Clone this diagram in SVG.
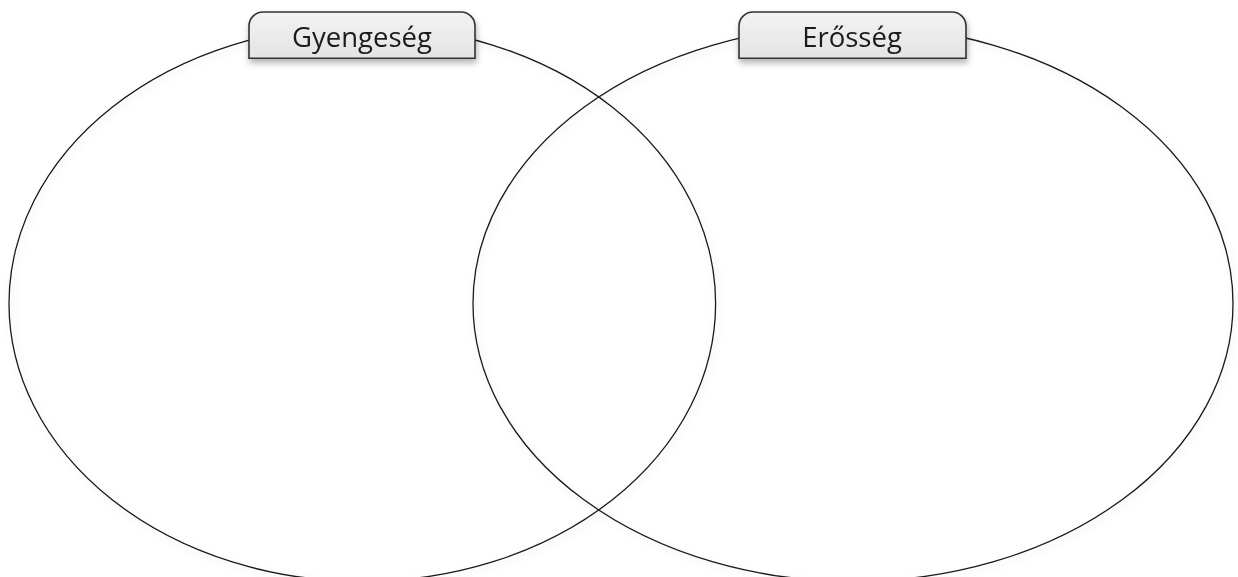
<svg xmlns="http://www.w3.org/2000/svg" width="1238" height="577" viewBox="0 0 1238 577">
  <defs>
    <filter id="softShadow" x="-10%" y="-10%" width="120%" height="120%">
      <feDropShadow dx="2" dy="3" stdDeviation="4" flood-color="#000" flood-opacity="0.12"/>
    </filter>
    <filter id="tabShadow" x="-10%" y="-20%" width="120%" height="160%">
      <feDropShadow dx="1" dy="4" stdDeviation="3" flood-color="#000" flood-opacity="0.3"/>
    </filter>
    <linearGradient id="tabFill" x1="0" y1="0" x2="0" y2="1">
      <stop offset="0" stop-color="#f2f2f2"/>
      <stop offset="1" stop-color="#e4e4e4"/>
    </linearGradient>
    <style>
      .ell { fill: none; stroke: #1a1a1a; stroke-width: 1.3; }
      .tab { fill: url(#tabFill); stroke: #333; stroke-width: 1.6; }
      .lbl { font-family: "Open Sans", "Liberation Sans", sans-serif; font-size: 27.5px; fill: #1a1a1a; text-anchor: middle; }
    </style>
  </defs>
  <rect width="1238" height="577" fill="#fff"/>
  <g id="connectors"></g>
  <g id="left-circle" filter="url(#softShadow)">
    <ellipse class="ell" cx="362.3" cy="303.5" rx="353.3" ry="278"/>
  </g>
  <g id="right-circle" filter="url(#softShadow)">
    <ellipse class="ell" cx="853" cy="303.5" rx="380" ry="278"/>
  </g>
  <g id="tab-gyengeseg" filter="url(#tabShadow)">
    <path class="tab" d="M249,58.3 V26 A14,14 0 0 1 263,12 H461 A14,14 0 0 1 475,26 V58.3 Z"/>
    <text class="lbl" x="362" y="47">Gyengeség</text>
  </g>
  <g id="tab-erosseg" filter="url(#tabShadow)">
    <path class="tab" d="M739,58.3 V26 A14,14 0 0 1 753,12 H952 A14,14 0 0 1 966,26 V58.3 Z"/>
    <text class="lbl" x="852" y="47">Erősség</text>
  </g>
</svg>
